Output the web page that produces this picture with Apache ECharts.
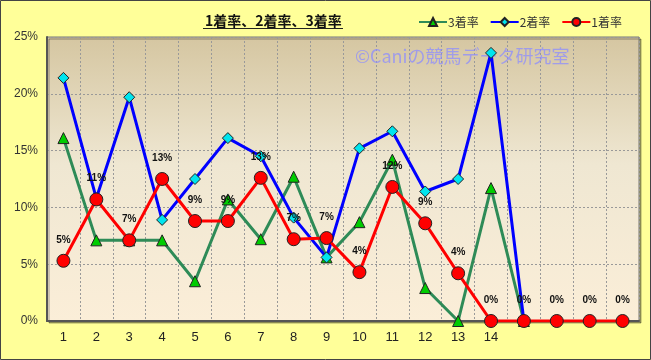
<!DOCTYPE html>
<html>
<head>
<meta charset="utf-8">
<script src="https://cdn.jsdelivr.net/npm/echarts@6/dist/echarts.min.js"></script>
<style>
html,body{margin:0;padding:0;background:#ffff99;}
#c{width:651px;height:360px;}
</style>
</head>
<body>
<div id="c"></div>
<script>
var categories = ['1','2','3','4','5','6','7','8','9','10','11','12','13','14','','','',''];
var rate1 = [5.3, 10.7, 7.1, 12.5, 8.8, 8.8, 12.6, 7.2, 7.3, 4.3, 11.8, 8.6, 4.2, 0, 0, 0, 0, 0];
var rate2 = [21.4, 10.8, 19.7, 8.9, 12.5, 16.1, 14.5, 9.1, 5.6, 15.2, 16.7, 11.4, 12.5, 23.6, 0, null, null, null];
var rate3 = [16.1, 7.1, 7.1, 7.1, 3.5, 10.7, 7.2, 12.7, 5.6, 8.7, 14.2, 2.9, 0, 11.7, 0, null, null, null];
var yTicks = [0, 5, 10, 15, 20, 25];

var font = '"Noto Sans CJK JP", "Noto Sans", sans-serif';
var chart = echarts.init(document.getElementById('c'));
chart.setOption({
  animation: false,
  backgroundColor: '#ffff99',
  textStyle: {fontFamily: font},
  title: {
    text: '1着率、2着率、3着率',
    left: 200, top: 9,
    textStyle: {fontSize: 14, fontWeight: 'bold', color: '#111', fontFamily: font}
  },
  legend: {
    data: ['3着率', '2着率', '1着率'],
    right: 24, top: 11,
    itemWidth: 28, itemHeight: 10, itemGap: 11,
    textStyle: {fontSize: 12, color: '#333', fontFamily: font, padding: [0,0,0,-4]}
  },
  grid: {
    left: 47, top: 37, right: 12, bottom: 39,
    show: true,
    borderColor: '#777', borderWidth: 1,
    shadowColor: 'rgba(0,0,0,0.35)', shadowOffsetX: 2, shadowOffsetY: 2, shadowBlur: 0,
    backgroundColor: new echarts.graphic.LinearGradient(0, 0, 0, 1, [
      {offset: 0, color: '#d5c6a1'},
      {offset: 0.45, color: '#efe7d2'},
      {offset: 1, color: '#fbeed8'}
    ])
  },
  xAxis: {
    type: 'category',
    data: categories,
    boundaryGap: true,
    axisLine: {lineStyle: {color: '#555', width: 2}},
    axisTick: {show: false},
    axisLabel: {color: '#222', fontSize: 13, margin: 10, fontFamily: 'Liberation Sans, sans-serif'},
    splitLine: {show: true, lineStyle: {color: '#999', type: [2, 2], width: 1}}
  },
  yAxis: {
    type: 'value',
    min: yTicks[0], max: yTicks[yTicks.length - 1], interval: 5,
    axisLine: {show: true, lineStyle: {color: '#555', width: 2}},
    axisTick: {show: false},
    axisLabel: {color: '#333', fontSize: 12, margin: 9, formatter: '{value}%', fontFamily: 'Liberation Sans, sans-serif'},
    splitLine: {show: true, lineStyle: {color: '#999', type: [2, 2], width: 1}}
  },
  graphic: [
    {type: 'rect', shape: {x: 0.5, y: 0.5, width: 650, height: 359}, style: {fill: 'none', stroke: '#444', lineWidth: 1}, z: 100},
    {type: 'line', shape: {x1: 203, y1: 28.5, x2: 343, y2: 28.5}, style: {stroke: '#222', lineWidth: 1}, z: 100},
    {type: 'text', left: 355, top: 47, z: 1,
     style: {text: '©Caniの競馬データ研究室', fontSize: 18, fill: 'rgba(140,140,255,0.75)', fontFamily: font}}
  ],
  series: [
    {
      name: '3着率', type: 'line', data: rate3,
      symbol: 'triangle', symbolSize: 11,
      lineStyle: {color: '#2e8b57', width: 3},
      itemStyle: {color: '#00cc00', borderColor: '#222', borderWidth: 1},
      z: 2
    },
    {
      name: '2着率', type: 'line', data: rate2,
      symbol: 'diamond', symbolSize: 11,
      lineStyle: {color: '#0000ff', width: 3},
      itemStyle: {color: '#00e5ee', borderColor: '#222', borderWidth: 1},
      z: 3
    },
    {
      name: '1着率', type: 'line', data: rate1,
      symbol: 'circle', symbolSize: 13,
      lineStyle: {color: '#ff0000', width: 3},
      itemStyle: {color: '#ff0000', borderColor: '#222', borderWidth: 1},
      label: {
        show: true, position: 'top', distance: 9,
        fontSize: 10, fontWeight: 'bold', color: '#111',
        fontFamily: 'Liberation Sans, sans-serif',
        formatter: function (p) { return Math.round(p.value) + '%'; }
      },
      z: 4
    }
  ]
});
</script>
</body>
</html>
